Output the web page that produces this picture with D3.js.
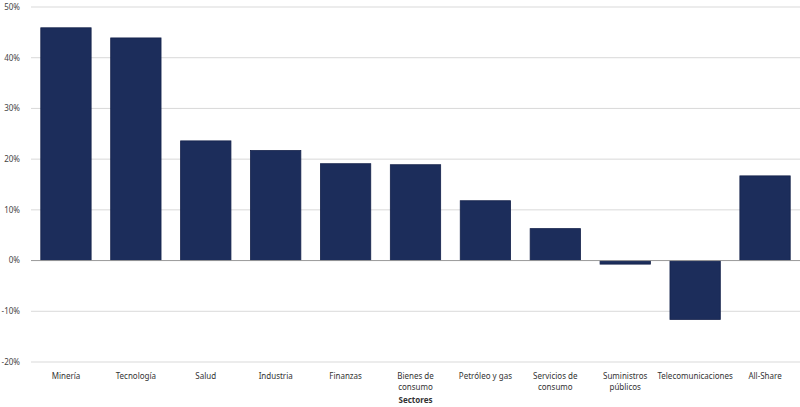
<!DOCTYPE html>
<html>
<head>
<meta charset="utf-8">
<script src="https://cdn.jsdelivr.net/npm/d3@7"></script>
<style>
  body { margin: 0; background: #fff; }
  svg text { font-family: "Noto Sans", "Open Sans", sans-serif; }
</style>
</head>
<body>
<div id="chart"></div>
<script>
// Sector returns (%)
const sectors = [
  ['Minería'], ['Tecnología'], ['Salud'], ['Industria'], ['Finanzas'],
  ['Bienes de', 'consumo'], ['Petróleo y gas'], ['Servicios de', 'consumo'],
  ['Suministros', 'públicos'], ['Telecomunicaciones'], ['All-Share']
];
const values = [45.9, 43.9, 23.6, 21.7, 19.1, 18.9, 11.8, 6.3, -0.7, -11.6, 16.7];
const yTicks = [-20, -10, 0, 10, 20, 30, 40, 50];

const width = 800, height = 407;
const margin = { top: 7, right: 0, bottom: 45, left: 31 };

const svg = d3.select('#chart').append('svg')
  .attr('width', width)
  .attr('height', height);

const x = d3.scaleBand()
  .domain(d3.range(sectors.length))
  .range([margin.left, width - margin.right])
  .paddingInner(0.28)
  .paddingOuter(0.14);

const y = d3.scaleLinear()
  .domain([-20, 50])
  .range([height - margin.bottom, margin.top]);

// gridlines
svg.append('g')
  .selectAll('line')
  .data(yTicks.filter(t => t !== 0))
  .join('line')
  .attr('x1', margin.left)
  .attr('x2', width - margin.right)
  .attr('y1', d => y(d))
  .attr('y2', d => y(d))
  .attr('stroke', '#d9d9d9')
  .attr('stroke-width', 1);

// y labels
svg.append('g')
  .selectAll('text')
  .data(yTicks)
  .join('text')
  .attr('x', 20)
  .attr('y', d => y(d))
  .attr('dy', '0.35em')
  .attr('text-anchor', 'end')
  .attr('font-size', 8)
  .attr('fill', '#444')
  .text(d => d + '%');

// bars
svg.append('g')
  .selectAll('rect')
  .data(values)
  .join('rect')
  .attr('x', (d, i) => x(i))
  .attr('width', x.bandwidth())
  .attr('y', d => y(Math.max(0, d)))
  .attr('height', d => Math.abs(y(d) - y(0)))
  .attr('fill', '#1c2d5b')
  .attr('stroke', '#14214a')
  .attr('stroke-width', 0.8);

// zero line
svg.append('line')
  .attr('x1', margin.left)
  .attr('x2', width - margin.right)
  .attr('y1', y(0))
  .attr('y2', y(0))
  .attr('stroke', '#999')
  .attr('stroke-width', 1);

// x labels
const xl = svg.append('g')
  .selectAll('text')
  .data(sectors)
  .join('text')
  .attr('x', (d, i) => x(i) + x.bandwidth() / 2)
  .attr('y', 379)
  .attr('text-anchor', 'middle')
  .attr('font-size', 8)
  .attr('fill', '#333');

xl.selectAll('tspan')
  .data(d => d)
  .join('tspan')
  .attr('x', function() { return this.parentNode.getAttribute('x'); })
  .attr('dy', (d, i) => i === 0 ? 0 : 11)
  .text(d => d);

// axis title
svg.append('text')
  .attr('x', (margin.left + width - margin.right) / 2)
  .attr('y', 403)
  .attr('text-anchor', 'middle')
  .attr('font-size', 8)
  .attr('font-weight', 'bold')
  .attr('fill', '#333')
  .text('Sectores');
</script>
</body>
</html>
